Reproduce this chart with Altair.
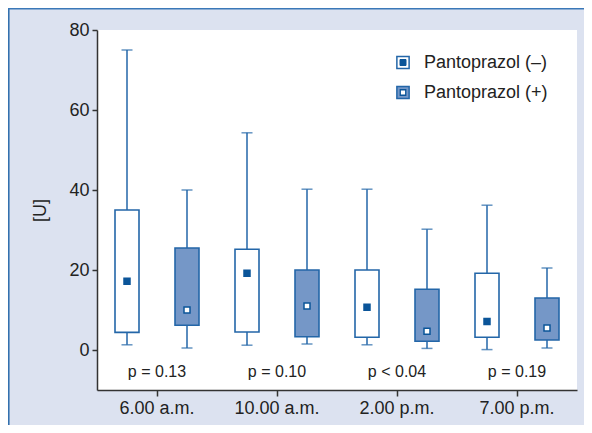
import altair as alt
import pandas as pd

# ---- data ----
groups = ["6.00 a.m.", "10.00 a.m.", "2.00 p.m.", "7.00 p.m."]
series_names = ["Pantoprazol (–)", "Pantoprazol (+)"]

minus_low = [1.3, 1.2, 1.3, 0.1]
minus_q1 = [4.4, 4.5, 3.2, 3.2]
minus_med = [17.2, 19.2, 10.7, 7.1]
minus_q3 = [35.0, 25.2, 20.0, 19.2]
minus_high = [75.0, 54.3, 40.2, 36.2]

plus_low = [0.5, 1.5, 0.4, 0.5]
plus_q1 = [6.2, 3.3, 2.2, 2.5]
plus_med = [10.0, 11.0, 4.7, 5.5]
plus_q3 = [25.5, 20.0, 15.2, 13.0]
plus_high = [40.0, 40.2, 30.2, 20.5]

p_values = ["p = 0.13", "p = 0.10", "p < 0.04", "p = 0.19"]

# ---- styling ----
BLUE = "#2366a8"
DARK = "#0b5599"
FILL_PLUS = "#7597c7"
BG = "#dce2f0"
AXIS = "#333333"
FONT = "Liberation Sans"

rows = []
for i, g in enumerate(groups):
    rows.append(dict(group=g, series=series_names[0], low=minus_low[i], q1=minus_q1[i],
                     med=minus_med[i], q3=minus_q3[i], high=minus_high[i]))
    rows.append(dict(group=g, series=series_names[1], low=plus_low[i], q1=plus_q1[i],
                     med=plus_med[i], q3=plus_q3[i], high=plus_high[i]))
df = pd.DataFrame(rows)
pdf = pd.DataFrame({"group": groups, "p": p_values})
one = pd.DataFrame({"k": [0]})

x_enc = alt.X("group:N", sort=groups,
              scale=alt.Scale(paddingInner=0, paddingOuter=0),
              axis=alt.Axis(title=None, labelAngle=0, labelFontSize=18, labelColor="#222",
                            labelFont=FONT, tickSize=6, tickColor=AXIS, tickWidth=1.5,
                            domainColor=AXIS, domainWidth=1.5, labelPadding=3, grid=False))
xo_enc = alt.XOffset("series:N", sort=series_names,
                     scale=alt.Scale(domain=series_names, paddingInner=0, paddingOuter=0))
y_scale = alt.Scale(domain=[-10, 80], nice=False, zero=False)
y_axis = alt.Axis(values=[0, 20, 40, 60, 80], grid=False, title="[U]", titleFontSize=18,
                  titleFontWeight="normal", titleFont=FONT, titleColor="#222",
                  titleX=-57, titleY=180, titleAlign="center", titleBaseline="middle",
                  labelFontSize=18, labelFont=FONT, labelColor="#222", tickSize=5,
                  tickColor=AXIS, tickWidth=1.5, domainColor=AXIS, domainWidth=1.5,
                  labelPadding=3)

base = alt.Chart(df)

whisker = base.mark_rule(color=BLUE, strokeWidth=1.5).encode(
    x=x_enc, xOffset=xo_enc,
    y=alt.Y("low:Q", scale=y_scale, axis=y_axis), y2="high:Q")
cap_low = base.mark_tick(orient="horizontal", size=11, thickness=1.5, color=BLUE).encode(
    x=x_enc, xOffset=xo_enc, y=alt.Y("low:Q", scale=y_scale))
cap_high = base.mark_tick(orient="horizontal", size=11, thickness=1.5, color=BLUE).encode(
    x=x_enc, xOffset=xo_enc, y=alt.Y("high:Q", scale=y_scale))
box = base.mark_bar(width=24, stroke=BLUE, strokeWidth=1.6).encode(
    x=x_enc, xOffset=xo_enc, y=alt.Y("q1:Q", scale=y_scale), y2="q3:Q",
    fill=alt.Fill("series:N", scale=alt.Scale(domain=series_names, range=["white", FILL_PLUS]),
                  legend=None))
median = base.mark_square(size=36, strokeWidth=1.5, stroke=DARK, opacity=1).encode(
    x=x_enc, xOffset=xo_enc, y=alt.Y("med:Q", scale=y_scale),
    fill=alt.Fill("series:N", scale=alt.Scale(domain=series_names, range=[DARK, "white"]),
                  legend=None))
ptext = alt.Chart(pdf).mark_text(fontSize=16, font=FONT, color="#222", baseline="middle").encode(
    x=alt.X("group:N", sort=groups), y=alt.datum(-5.6), text="p:N")

# manual legend
LX, LY1, LY2, LTX = 306, 32.5, 62.5, 327
leg = []
leg.append(alt.Chart(one).mark_square(size=150, fill="white", stroke=BLUE, strokeWidth=1.5,
                                      opacity=1).encode(x=alt.value(LX), y=alt.value(LY1)))
leg.append(alt.Chart(one).mark_square(size=36, fill=DARK, stroke=DARK, strokeWidth=1,
                                      opacity=1).encode(x=alt.value(LX), y=alt.value(LY1)))
leg.append(alt.Chart(one).mark_square(size=150, fill=FILL_PLUS, stroke=BLUE, strokeWidth=1.5,
                                      opacity=1).encode(x=alt.value(LX), y=alt.value(LY2)))
leg.append(alt.Chart(one).mark_square(size=30, fill="white", stroke=DARK, strokeWidth=1.3,
                                      opacity=1).encode(x=alt.value(LX), y=alt.value(LY2)))
leg.append(alt.Chart(one).mark_text(text=series_names[0], align="left", baseline="middle",
                                    fontSize=18, font=FONT, color="#222").encode(
    x=alt.value(LTX), y=alt.value(LY1)))
leg.append(alt.Chart(one).mark_text(text=series_names[1], align="left", baseline="middle",
                                    fontSize=18, font=FONT, color="#222").encode(
    x=alt.value(LTX), y=alt.value(LY2)))

# frame lines (left and top edge of panel)
frame_left = alt.Chart(one).mark_rule(color="#2a6aaa", strokeWidth=1.5).encode(
    x=alt.value(-88.2), y=alt.value(-22), y2=alt.value(400))
frame_top = alt.Chart(one).mark_rule(color="#3a78b8", strokeWidth=1.5).encode(
    x=alt.value(-89), x2=alt.value(500), y=alt.value(-21.2))

chart = alt.layer(
    whisker, cap_low, cap_high, box, median, ptext, *leg, frame_left, frame_top
).resolve_scale(
    fill="independent"
).properties(
    width=480, height=360, background=BG,
    autosize=alt.AutoSizeParams(type="none"),
    padding={"left": 89, "top": 22, "right": 7, "bottom": 35},
).configure_view(fill="white", stroke=None)

chart.save("out.html", embed_options={"renderer": "svg", "actions": False})
